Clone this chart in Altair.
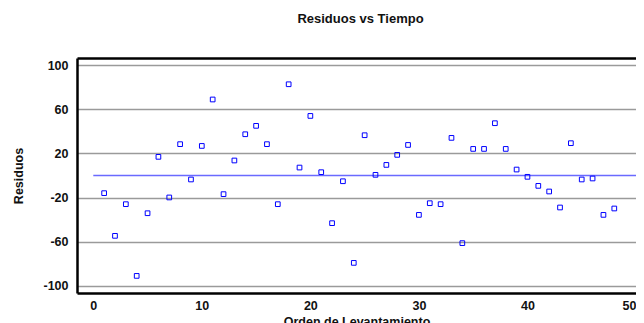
import altair as alt
import pandas as pd

orden = list(range(1, 49))
residuos = [-16.0, -54.7, -26.0, -91.0, -34.2, 16.9, -19.9, 28.4, -3.6, 26.8,
            68.9, -16.9, 13.6, 37.4, 45.0, 28.4, -26.0, 82.7, 7.2, 54.0,
            3.0, -43.2, -5.2, -79.2, 36.5, 0.6, 9.6, 18.7, 27.7, -35.7,
            -25.1, -26.0, 34.1, -61.3, 24.1, 24.1, 47.4, 24.1, 5.4, -1.2,
            -9.4, -14.5, -29.0, 29.3, -3.6, -2.7, -35.7, -29.9]
linea_x = [0]
linea_x2 = [50]
linea_y = [0]
y_ticks = [-100, -60, -20, 20, 60, 100]
x_ticks = [0, 10, 20, 30, 40, 50]

df = pd.DataFrame({"orden": orden, "residuo": residuos})
df_line = pd.DataFrame({"x": linea_x, "x2": linea_x2, "y": linea_y})

font = "Liberation Sans"
frame = dict(domain=True, domainColor="black", domainWidth=2.5)
xscale = alt.Scale(domain=[-1.5, 50], nice=False, zero=False)
yscale = alt.Scale(domain=[-106.5, 106.5], nice=False, zero=False)

yaxis = alt.Axis(values=y_ticks, title="Residuos", grid=True,
                 gridColor="#9a9a9a", gridWidth=1.3, ticks=False,
                 labelExpr="'' + datum.value",
                 labelPadding=9, titlePadding=17, **frame,
                 labelFont=font, labelFontSize=12.5, labelFontWeight="bold",
                 labelColor="#111", titleFont=font, titleFontSize=12.5,
                 titleFontWeight="bold", titleColor="#111")

points = alt.Chart(df).mark_point(
    shape="square", filled=False, color="#0000ff", size=22, strokeWidth=1, opacity=1
).encode(
    x=alt.X("orden:Q", scale=xscale,
            axis=alt.Axis(values=x_ticks, title="Orden de Levantamiento", grid=False,
                          ticks=False, labelPadding=6, titlePadding=4,
                          labelFlush=True, **frame,
                          labelFont=font, labelFontSize=12.5, labelFontWeight="bold",
                          labelColor="#111", titleFont=font, titleFontSize=12.5,
                          titleFontWeight="bold", titleColor="#111")),
    y=alt.Y("residuo:Q", scale=yscale, axis=yaxis),
)

line = alt.Chart(df_line).mark_rule(color="#6a6aff", strokeWidth=1.6).encode(
    x=alt.X("x:Q", scale=xscale,
            axis=alt.Axis(orient="top", labels=False, ticks=False, grid=False,
                          title=None, **frame)),
    x2="x2:Q",
    y=alt.Y("y:Q", scale=yscale, axis=yaxis),
)

chart = alt.layer(line, points).resolve_axis(x="independent").properties(
    width=559,
    height=235,
    padding={"left": 69, "top": 50, "right": 0, "bottom": 30},
    autosize=alt.AutoSizeParams(type="none"),
    background="white",
    title=alt.TitleParams("Residuos vs Tiempo", font=font, fontSize=13,
                          fontWeight="bold", color="#111", offset=32, dx=4),
).configure_view(
    stroke=None
)

chart.save("out.html", embed_options={"renderer": "svg", "actions": False})
